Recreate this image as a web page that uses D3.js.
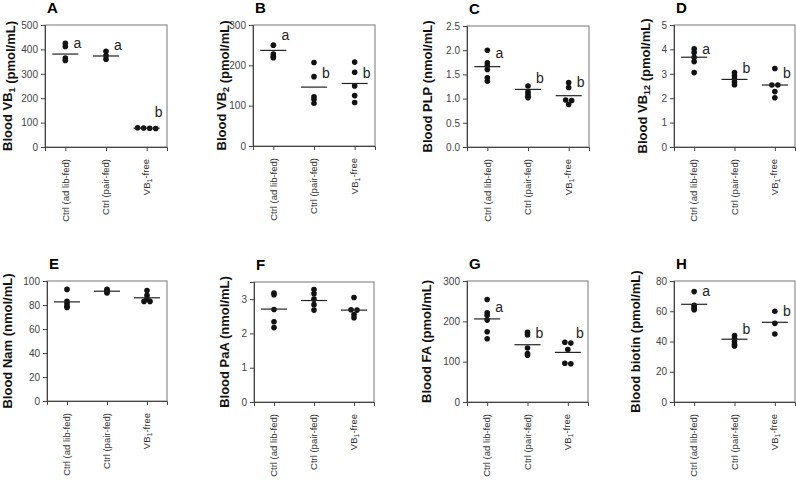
<!DOCTYPE html>
<html><head><meta charset="utf-8">
<script src="https://cdn.jsdelivr.net/npm/d3@7/dist/d3.min.js"></script>
<style>body{margin:0;background:#fff}svg{display:block;font-family:"Liberation Sans",Arial,sans-serif}</style>
</head><body><svg id="c" width="796" height="482"></svg>
<script>
// ---------- data ----------
const groups = ["Ctrl (ad lib-fed)", "Ctrl (pair-fed)", "VB1-free"];

const vb1Values = [[425, 412, 365, 355], [392, 375, 360], [79, 77, 78, 76]];
const vb1Means = [381, 373, 77];
const vb1Letters = ["a", "a", "b"];
const vb1LetterAt = [426, 418, 143];
const vb1Ticks = [0, 100, 200, 300, 400, 500];

const vb2Values = [[250, 228, 222, 219], [207, 172, 122, 116, 106], [208, 183, 149, 125, 108]];
const vb2Means = [237, 146, 155];
const vb2Letters = ["a", "b", "b"];
const vb2LetterAt = [275, 181, 181];
const vb2Ticks = [0, 100, 200, 300];

const plpValues = [[2.0, 1.74, 1.68, 1.60, 1.43, 1.36], [1.26, 1.14, 1.10, 1.05, 1.02], [1.33, 1.23, 0.97, 0.88, 0.96]];
const plpMeans = [1.66, 1.19, 1.06];
const plpLetters = ["a", "b", "b"];
const plpLetterAt = [1.94, 1.43, 1.34];
const plpTicks = [0, 0.5, 1.0, 1.5, 2.0, 2.5];

const vb12Values = [[4.02, 3.87, 3.68, 3.50, 3.05], [3.05, 2.92, 2.80, 2.66, 2.55], [3.22, 2.54, 2.54, 2.27, 2.02]];
const vb12Means = [3.68, 2.77, 2.54];
const vb12Letters = ["a", "b", "b"];
const vb12LetterAt = [4.02, 3.24, 3.03];
const vb12Ticks = [0, 1, 2, 3, 4, 5];

const namValues = [[93, 83, 81, 79, 78], [93, 92, 91, 90], [92, 88, 85, 83, 83]];
const namMeans = [82.6, 91.5, 86];
const namLetters = ["", "", ""];
const namLetterAt = [0, 0, 0];
const namTicks = [0, 20, 40, 60, 80, 100];

const paaValues = [[3.18, 3.13, 2.70, 2.34, 2.17], [3.28, 3.16, 3.0, 2.84, 2.68], [3.05, 2.69, 2.68, 2.46, 2.55]];
const paaMeans = [2.71, 2.96, 2.68];
const paaLetters = ["", "", ""];
const paaLetterAt = [0, 0, 0];
const paaTicks = [0, 1, 2, 3];
const paaMax = 3.5;

const faValues = [[254, 221, 215, 203, 174, 157], [173, 167, 134, 120, 116], [148, 146, 130, 96, 95]];
const faMeans = [206, 142, 123];
const faLetters = ["a", "b", "b"];
const faLetterAt = [236, 172, 172];
const faTicks = [0, 100, 200, 300];

const biotinValues = [[73, 64, 63, 62, 61], [44, 42, 40, 38, 37], [60, 52, 45]];
const biotinMeans = [64.6, 41.5, 52.7];
const biotinLetters = ["a", "b", "b"];
const biotinLetterAt = [73, 48, 60];
const biotinTicks = [0, 20, 40, 60, 80];

// titles: [text, isSub]
const panelDefs = [
  {tag: "A", title: [["Blood VB", 0], ["1", 1], [" (pmol/mL)", 0]], values: vb1Values, means: vb1Means, letters: vb1Letters, letterAt: vb1LetterAt, ticks: vb1Ticks, max: 500, fmt: d3.format("d")},
  {tag: "B", title: [["Blood VB", 0], ["2", 1], [" (pmol/mL)", 0]], values: vb2Values, means: vb2Means, letters: vb2Letters, letterAt: vb2LetterAt, ticks: vb2Ticks, max: 300, fmt: d3.format("d")},
  {tag: "C", title: [["Blood PLP (nmol/mL)", 0]], values: plpValues, means: plpMeans, letters: plpLetters, letterAt: plpLetterAt, ticks: plpTicks, max: 2.5, fmt: d3.format(".1f")},
  {tag: "D", title: [["Blood VB", 0], ["12", 1], [" (pmol/mL)", 0]], values: vb12Values, means: vb12Means, letters: vb12Letters, letterAt: vb12LetterAt, ticks: vb12Ticks, max: 5, fmt: d3.format("d")},
  {tag: "E", title: [["Blood Nam (nmol/mL)", 0]], values: namValues, means: namMeans, letters: namLetters, letterAt: namLetterAt, ticks: namTicks, max: 100, fmt: d3.format("d")},
  {tag: "F", title: [["Blood PaA (nmol/mL)", 0]], values: paaValues, means: paaMeans, letters: paaLetters, letterAt: paaLetterAt, ticks: paaTicks, max: paaMax, fmt: d3.format("d")},
  {tag: "G", title: [["Blood FA (pmol/mL)", 0]], values: faValues, means: faMeans, letters: faLetters, letterAt: faLetterAt, ticks: faTicks, max: 300, fmt: d3.format("d")},
  {tag: "H", title: [["Blood biotin (pmol/mL)", 0]], values: biotinValues, means: biotinMeans, letters: biotinLetters, letterAt: biotinLetterAt, ticks: biotinTicks, max: 80, fmt: d3.format("d")}
];

// ---------- layout ----------
const layout = [
  {l: 45, r: 167, t: 25, b: 147, tx: 12},
  {l: 253, r: 375, t: 25, b: 146, tx: 226},
  {l: 467, r: 589, t: 26, b: 147, tx: 432},
  {l: 674, r: 795, t: 25, b: 147, tx: 647},
  {l: 47, r: 167, t: 281, b: 401, tx: 12},
  {l: 254, r: 374, t: 282, b: 402, tx: 229},
  {l: 467, r: 588, t: 281, b: 402, tx: 431},
  {l: 674, r: 795, t: 281, b: 402, tx: 640}
];

const svg = d3.select("#c");
const R = 2.8;

// near-identical values are spread symmetrically in a row; others stack in the column
function swarm(vals, y, cx) {
  const pts = vals.map(v => ({v, y: y(v)})).sort((a, b) => a.y - b.y);
  const clusters = [];
  pts.forEach(p => {
    const c = clusters[clusters.length - 1];
    if (c && Math.abs(c[c.length - 1].y - p.y) < 1.0) c.push(p); else clusters.push([p]);
  });
  const step = 6;
  clusters.forEach(c => c.forEach((p, k) => { p.x = cx + (k - (c.length - 1) / 2) * step; }));
  return pts;
}

function addLabel(sel, name, subSize) {
  const m = name.match(/^VB1(.*)$/);
  if (m) {
    sel.append("tspan").text("VB");
    sel.append("tspan").attr("font-size", subSize).attr("dy", "0.3em").text("1");
    sel.append("tspan").attr("dy", "-0.3em").text(m[1]);
  } else sel.text(name);
}

panelDefs.forEach((p, i) => {
  const L = layout[i];
  const g = svg.append("g");
  const x = d3.scalePoint().domain(groups).range([L.l, L.r]).padding(0.5);
  const y = d3.scaleLinear().domain([0, p.max]).range([L.b, L.t]);

  // frame
  g.append("rect").attr("x", L.l).attr("y", L.t).attr("width", L.r - L.l).attr("height", L.b - L.t)
    .attr("fill", "none").attr("stroke", "#777").attr("stroke-width", 1);

  // y axis
  const ya = d3.axisLeft(y).tickValues(p.ticks).tickFormat(p.fmt).tickSize(4).tickPadding(3);
  const yg = g.append("g").attr("transform", `translate(${L.l},0)`).call(ya);
  yg.select(".domain").attr("stroke", "#444");
  yg.selectAll(".tick line").attr("stroke", "#444");
  yg.selectAll(".tick text").attr("font-size", 10).attr("fill", "#444").attr("font-family", "Liberation Sans, Arial, sans-serif");

  // x axis
  const xa = d3.axisBottom(x).tickSize(4).tickFormat("");
  const xg = g.append("g").attr("transform", `translate(0,${L.b})`).call(xa);
  xg.select(".domain").attr("stroke", "#444");
  xg.selectAll(".tick line").attr("stroke", "#444");
  groups.forEach(name => {
    const t = g.append("text")
      .attr("transform", `translate(${x(name)},${L.b + 12}) rotate(-90)`)
      .attr("text-anchor", "end").attr("dy", "0.35em")
      .attr("font-size", 9.5).attr("fill", "#333");
    addLabel(t, name, 7);
  });

  // y title
  const tt = g.append("text")
    .attr("transform", `translate(${L.tx},${(L.t + L.b) / 2}) rotate(-90)`)
    .attr("text-anchor", "middle").attr("font-size", 13).attr("font-weight", "bold").attr("fill", "#111");
  p.title.forEach(([s, sub]) => {
    if (sub) {
      tt.append("tspan").attr("font-size", 9).attr("dy", "0.3em").text(s);
      tt.append("tspan").attr("dy", "-0.3em").text("");
    } else tt.append("tspan").text(s);
  });

  // panel tag
  g.append("text").attr("x", L.l + 2).attr("y", L.t - 12).attr("font-size", 15).attr("font-weight", "bold").text(p.tag);

  // points, means, letters
  groups.forEach((name, j) => {
    const cx = x(name);
    const pts = swarm(p.values[j], y, cx);
    g.selectAll(null).data(pts).enter().append("circle")
      .attr("cx", d => d.x).attr("cy", d => d.y).attr("r", R).attr("fill", "#111");
    g.append("line").attr("x1", cx - 13).attr("x2", cx + 13)
      .attr("y1", y(p.means[j])).attr("y2", y(p.means[j])).attr("stroke", "#222").attr("stroke-width", 1.2);
    if (p.letters[j]) {
      g.append("text").attr("x", cx + 12).attr("y", y(p.letterAt[j])).attr("dy", "0.35em")
        .attr("text-anchor", "middle").attr("font-size", 14).attr("fill", "#222").text(p.letters[j]);
    }
  });
});
</script></body></html>
